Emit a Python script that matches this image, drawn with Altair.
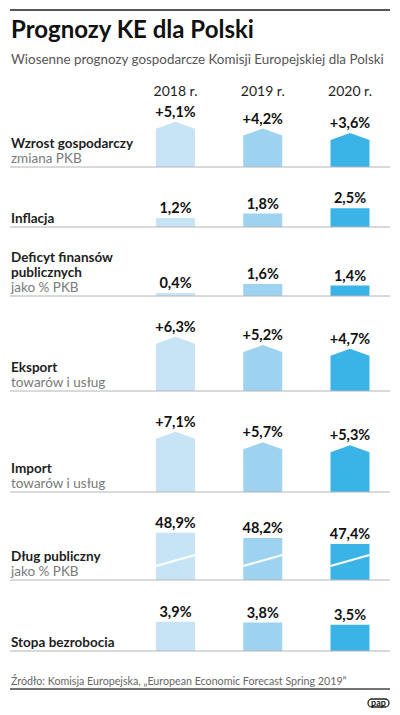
import altair as alt
import pandas as pd

# ---------------- data ----------------
years = ["2018 r.", "2019 r.", "2020 r."]
bar_colors = ["#c6e4f5", "#9dd3f0", "#3ab4e6"]

title_text = "Prognozy KE dla Polski"
subtitle_text = "Wiosenne prognozy gospodarcze Komisji Europejskiej dla Polski"
source_text = "Źródło: Komisja Europejska, „European Economic Forecast Spring 2019”"
logo_text = "pap"

wzrost = [5.1, 4.2, 3.6]
inflacja = [1.2, 1.8, 2.5]
deficyt = [0.4, 1.6, 1.4]
eksport = [6.3, 5.2, 4.7]
import_ = [7.1, 5.7, 5.3]
dlug = [48.9, 48.2, 47.4]
bezrobocie = [3.9, 3.8, 3.5]

row_titles = [
    ["Wzrost gospodarczy"],
    ["Inflacja"],
    ["Deficyt finansów", "publicznych"],
    ["Eksport"],
    ["Import"],
    ["Dług publiczny"],
    ["Stopa bezrobocia"],
]
row_subtitles = ["zmiana PKB", "", "jako % PKB", "towarów i usług",
                 "towarów i usług", "jako % PKB", ""]
row_values = [wzrost, inflacja, deficyt, eksport, import_, dlug, bezrobocie]
row_arrow = [True, False, False, True, True, False, False]
row_signed = [True, False, False, True, True, False, False]
row_base = [0, 0, 0, 0, 0, 42.6, 0]          # broken axis for debt row
row_heights = [67, 60, 69, 95, 101, 88, 71]

# ---------------- layout / style ----------------
W = 384
PX = 7.5                      # pixels per percentage point
STEP = 87.25
C0 = 167.5
XDOM = [-C0 / STEP, (W - C0) / STEP]
HW = 19.5 / STEP              # half bar width in column units
ROOF = 7 / PX                 # arrow roof height
FONT = "Lato"
DARK = "#1e1e1e"
GREY = "#7a7a7a"

xscale = alt.Scale(domain=XDOM, nice=False, zero=False)
cscale = alt.Scale(domain=years, range=bar_colors)
one = pd.DataFrame({"v": [0]})


def fmt(v, signed):
    s = f"{v:.1f}".replace(".", ",") + "%"
    return ("+" + s) if signed else s


def text_line(txt, x, y, size, weight="normal", color=DARK, align="left"):
    return alt.Chart(one).mark_text(
        align=align, baseline="alphabetic", font=FONT, fontSize=size,
        fontWeight=weight, color=color
    ).encode(x=alt.value(x), y=alt.value(y), text=alt.value(txt))


def hrule(y, color, width):
    return alt.Chart(one).mark_rule(color=color, strokeWidth=width).encode(
        x=alt.value(2), x2=alt.value(382), y=alt.value(y))


# ---------------- header ----------------
H0 = 92
hdr_df = pd.DataFrame({"idx": list(range(3)), "year": years})
header = alt.layer(
    hrule(2, DARK, 1.5),
    text_line(title_text, 3, 30, 24, "bold", "#111"),
    text_line(subtitle_text, 3, 56, 13.4, "normal", "#555"),
    alt.Chart(hdr_df).mark_text(
        baseline="alphabetic", font=FONT, fontSize=14, color=DARK
    ).encode(
        x=alt.X("idx:Q", scale=xscale, axis=None),
        y=alt.value(88),
        text="year:N",
    ),
).properties(width=W, height=H0)

panels = [header]

# ---------------- data rows ----------------
for r in range(len(row_values)):
    vals = row_values[r]
    base = row_base[r]
    h = row_heights[r]
    roof = ROOF if row_arrow[r] else 0.0
    yscale = alt.Scale(domain=[base, base + h / PX], nice=False, zero=False)

    shape_rows, lab_rows, brk_rows = [], [], []
    for i, v in enumerate(vals):
        for dx, off in [(-HW, 0.0), (0.0, roof), (HW, 0.0)]:
            shape_rows.append({"col": years[i], "x": i + dx, "y": v + off, "y0": base})
        lab_rows.append({"idx": i, "top": v + roof, "label": fmt(v, row_signed[r])})
        if base > 0:
            brk_rows.append({"col": years[i], "x": i - HW, "y": base + 14 / PX})
            brk_rows.append({"col": years[i], "x": i + HW, "y": base + 25 / PX})

    layers = [
        alt.Chart(pd.DataFrame(shape_rows)).mark_area(interpolate="linear").encode(
            x=alt.X("x:Q", scale=xscale, axis=None),
            y=alt.Y("y:Q", scale=yscale, axis=None, stack=None),
            y2="y0:Q",
            color=alt.Color("col:N", scale=cscale, legend=None),
        )
    ]
    if brk_rows:
        layers.append(
            alt.Chart(pd.DataFrame(brk_rows)).mark_line(
                color="white", strokeWidth=2).encode(
                x=alt.X("x:Q", scale=xscale, axis=None),
                y=alt.Y("y:Q", scale=yscale, axis=None),
                detail="col:N",
            )
        )
    layers.append(
        alt.Chart(pd.DataFrame(lab_rows)).mark_text(
            baseline="alphabetic", dy=-5, font=FONT, fontSize=14.5,
            fontWeight="bold", color="#111"
        ).encode(
            x=alt.X("idx:Q", scale=xscale, axis=None),
            y=alt.Y("top:Q", scale=yscale, axis=None),
            text="label:N",
        )
    )
    layers.append(hrule(h, "#b4b4b4", 1))

    lines = [(t, "bold", DARK) for t in row_titles[r]]
    if row_subtitles[r]:
        lines.append((row_subtitles[r], "normal", GREY))
    n = len(lines)
    for k, (t, wgt, colr) in enumerate(lines):
        layers.append(text_line(t, 3, h - 4 - 15 * (n - 1 - k), 13.5, wgt, colr))

    panels.append(alt.layer(*layers).properties(width=W, height=h))

# ---------------- footer ----------------
HF = 56
footer = alt.layer(
    text_line(source_text, 3, 34, 10.7, "normal", "#666"),
    hrule(38, "#444", 1.5),
    alt.Chart(one).mark_rect(
        cornerRadius=4, fill="white", stroke="#222", strokeWidth=1.3
    ).encode(x=alt.value(360), x2=alt.value(381), y=alt.value(48), y2=alt.value(56)),
    alt.Chart(one).mark_text(
        align="center", baseline="middle", font=FONT, fontSize=9,
        fontWeight="bold", color="#111"
    ).encode(x=alt.value(370.5), y=alt.value(52), text=alt.value(logo_text)),
).properties(width=W, height=HF)
panels.append(footer)

chart = alt.vconcat(*panels, spacing=0, bounds="flush").properties(
    padding=0, background="white"
).configure_view(stroke=None)

chart.save("out.html", embed_options={"renderer": "svg", "actions": False})
